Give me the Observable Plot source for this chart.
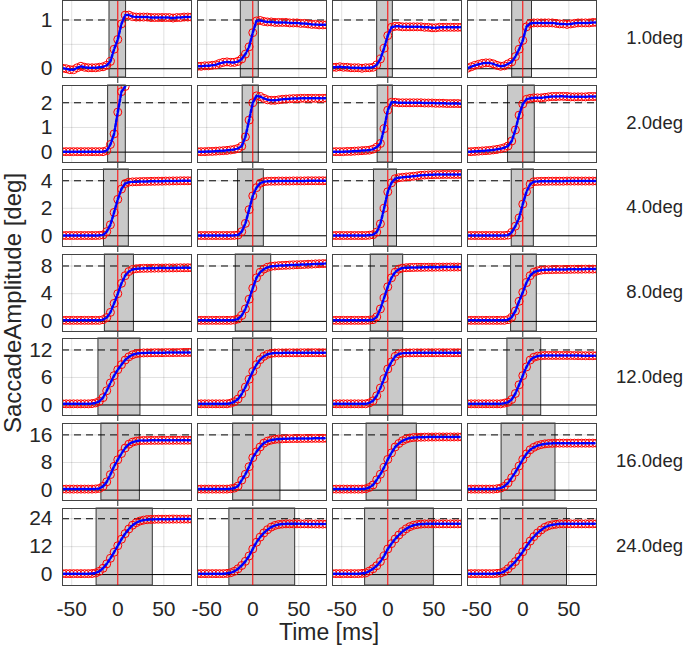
<!DOCTYPE html>
<html><head><meta charset="utf-8">
<script src="https://cdn.jsdelivr.net/npm/d3@7"></script>
<script src="https://cdn.jsdelivr.net/npm/@observablehq/plot@0.6"></script>
<style>
body{margin:0;background:#fff;}
#wrap{position:relative;width:685px;height:645px;overflow:hidden;font-family:"Liberation Sans",Arial,Helvetica,sans-serif;color:#262626;background:#fff;}
.row{position:absolute;left:0;}
.rlab{position:absolute;right:2px;font-family:"Liberation Sans",Arial,sans-serif;font-size:18px;line-height:1;white-space:nowrap;}
.ylab{position:absolute;font-size:24px;line-height:1;white-space:nowrap;transform-origin:center center;}
.xlab{position:absolute;font-size:23px;line-height:1;white-space:nowrap;}
</style></head><body><div id="wrap"></div>
<script>
// ---- data ----
const times = [-60,-56,-52,-48,-44,-40,-36,-32,-28,-24,-20,-16,-12,-8,-4,0,4,8,12,16,20,24,28,32,36,40,44,48,52,56,60,64,68,72,76,80];
const targets = [1,2,4,8,12,16,24];
const rowLabels = ["1.0deg","2.0deg","4.0deg","8.0deg","12.0deg","16.0deg","24.0deg"];
const yDomains = [[-0.18,1.4],[-0.42,2.7],[-0.78,4.82],[-1.46,9.66],[-2.3,14.5],[-3.0,19.3],[-4.7,28.4]];
const yTicks = [[0,0.5,1],[0,1,2],[0,2,4],[0,4,8],[0,6,12],[0,8,16],[0,12,24]];
const yTickLabels = [["0","","1"],["0","1","2"],["0","2","4"],["0","4","8"],["0","6","12"],["0","8","16"],["0","12","24"]];
const xTicks = [-50,0,50];
const xTickLabels = ["-50","0","50"];
const onsets = [[-9,-13,-11.5,-11.5],[-10.5,-11,-11,-16],[-15,-16,-15,-12],[-14,-18.5,-18.5,-12.7],[-21,-21.4,-19,-16.7],[-17.8,-21.3,-23,-23],[-23,-25.4,-24.6,-24]];
const offsets = [[9,6.5,5.5,10],[8.7,6.5,5.5,13],[12,12,10,12],[17.5,20,16.7,15.2],[24.6,21,16.7,20],[24,30,31.5,35.5],[38,46,50,48]];

const trace1deg = [
 [0.01,0.0,-0.02,-0.02,0.02,0.05,0.03,0.02,0.02,0.02,0.03,0.04,0.07,0.15,0.4,0.6,0.92,1.1,1.1,1.07,1.06,1.06,1.06,1.06,1.05,1.05,1.05,1.05,1.05,1.05,1.04,1.05,1.05,1.06,1.06,1.06],
 [0.05,0.05,0.06,0.06,0.07,0.08,0.11,0.13,0.14,0.13,0.13,0.15,0.2,0.3,0.45,0.74,0.98,0.99,0.97,0.96,0.96,0.95,0.95,0.95,0.95,0.94,0.94,0.94,0.93,0.93,0.92,0.91,0.91,0.9,0.9,0.9],
 [0.03,0.03,0.04,0.03,0.03,0.02,0.02,0.02,0.01,0.02,0.02,0.03,0.08,0.2,0.42,0.68,0.85,0.87,0.87,0.86,0.86,0.86,0.86,0.86,0.86,0.85,0.85,0.84,0.84,0.85,0.85,0.85,0.85,0.85,0.85,0.85],
 [0.01,0.04,0.07,0.09,0.11,0.12,0.12,0.1,0.07,0.05,0.06,0.1,0.14,0.25,0.4,0.58,0.86,0.93,0.94,0.94,0.94,0.94,0.94,0.94,0.93,0.92,0.92,0.91,0.92,0.93,0.94,0.94,0.94,0.94,0.95,0.95]
];
const trace2deg = [
 [0.02,0.02,0.02,0.02,0.02,0.02,0.02,0.02,0.02,0.02,0.02,0.02,0.06,0.31,0.74,1.62,2.45,2.66,null,null,null,null,null,null,null,null,null,null,null,null,null,null,null,null,null,null],
 [0.02,0.02,0.02,0.03,0.03,0.04,0.05,0.06,0.07,0.09,0.11,0.15,0.24,0.62,1.3,2.0,2.28,2.25,2.18,2.12,2.1,2.1,2.12,2.14,2.15,2.16,2.17,2.17,2.18,2.18,2.18,2.18,2.18,2.18,2.18,2.19],
 [0.02,0.02,0.02,0.02,0.03,0.03,0.04,0.05,0.06,0.07,0.08,0.12,0.2,0.35,0.95,1.7,2.02,2.02,2.0,2.0,2.0,2.0,2.0,2.0,2.0,1.99,1.99,1.99,1.98,1.98,1.98,1.97,1.97,1.97,1.97,1.96],
 [0.02,0.02,0.03,0.04,0.05,0.06,0.07,0.09,0.11,0.14,0.18,0.25,0.45,0.9,1.5,1.95,2.14,2.18,2.2,2.2,2.2,2.22,2.24,2.25,2.25,2.26,2.26,2.25,2.24,2.24,2.24,2.24,2.24,2.25,2.25,2.25]
];
const trace4deg = [
 [0.02,0.02,0.02,0.02,0.02,0.02,0.02,0.02,0.02,0.02,0.03,0.06,0.3,0.8,1.7,2.65,3.4,3.8,3.9,3.92,3.93,3.94,3.95,3.95,3.96,3.96,3.97,3.97,3.98,3.98,3.99,3.99,4.0,4.0,4.0,4.0],
 [0.02,0.02,0.02,0.02,0.02,0.02,0.02,0.02,0.02,0.02,0.03,0.06,0.3,0.9,1.9,2.9,3.5,3.82,3.93,3.96,3.97,3.97,3.98,3.98,3.98,3.98,3.99,3.99,3.99,3.99,4.0,4.0,4.0,4.0,4.0,4.0],
 [0.02,0.02,0.02,0.02,0.02,0.02,0.02,0.02,0.02,0.02,0.04,0.08,0.27,0.87,2.0,3.2,3.85,4.15,4.22,4.25,4.28,4.3,4.33,4.36,4.4,4.42,4.43,4.44,4.45,4.45,4.46,4.46,4.46,4.46,4.46,4.46],
 [0.02,0.02,0.02,0.02,0.02,0.02,0.02,0.02,0.02,0.02,0.02,0.05,0.25,0.7,1.3,2.3,3.2,3.75,3.93,3.95,3.96,3.96,3.97,3.97,3.97,3.97,3.97,3.98,3.98,3.98,3.98,3.98,3.98,3.98,3.98,3.98]
];
const trace8deg = [
 [0.15,0.15,0.15,0.15,0.15,0.15,0.15,0.15,0.15,0.15,0.15,0.25,0.55,1.3,2.6,4.0,5.5,6.6,7.2,7.5,7.6,7.65,7.66,7.67,7.68,7.69,7.7,7.7,7.71,7.72,7.72,7.73,7.74,7.74,7.75,7.75],
 [0.15,0.15,0.15,0.15,0.15,0.15,0.15,0.15,0.15,0.15,0.2,0.35,0.85,1.8,3.2,4.8,6.3,7.1,7.55,7.8,7.95,8.0,8.05,8.08,8.1,8.12,8.15,8.18,8.2,8.22,8.25,8.27,8.3,8.32,8.34,8.35],
 [0.15,0.15,0.15,0.15,0.15,0.15,0.15,0.15,0.15,0.15,0.18,0.25,0.65,1.8,3.4,5.0,6.3,7.1,7.55,7.7,7.75,7.77,7.78,7.8,7.8,7.81,7.82,7.82,7.83,7.83,7.84,7.84,7.85,7.85,7.85,7.85],
 [0.15,0.15,0.15,0.15,0.15,0.15,0.15,0.15,0.15,0.15,0.15,0.25,0.6,1.5,2.9,4.2,5.6,6.6,7.1,7.3,7.4,7.45,7.47,7.48,7.5,7.5,7.5,7.51,7.52,7.53,7.53,7.54,7.55,7.55,7.55,7.55]
];
const trace12deg = [
 [0.25,0.25,0.25,0.25,0.25,0.25,0.25,0.25,0.3,0.45,0.8,1.6,3.1,4.8,6.4,7.7,8.8,9.8,10.5,10.95,11.2,11.3,11.35,11.37,11.38,11.4,11.4,11.4,11.42,11.42,11.43,11.43,11.44,11.45,11.45,11.45],
 [0.25,0.25,0.25,0.25,0.25,0.25,0.25,0.25,0.25,0.4,0.7,1.3,2.4,3.9,5.6,7.3,8.8,9.9,10.6,11.05,11.25,11.33,11.35,11.36,11.37,11.38,11.38,11.38,11.39,11.39,11.4,11.4,11.4,11.4,11.4,11.4],
 [0.25,0.25,0.25,0.25,0.25,0.25,0.25,0.25,0.25,0.25,0.45,0.9,2.0,3.7,5.7,7.85,9.4,10.6,11.15,11.3,11.35,11.36,11.37,11.38,11.38,11.38,11.39,11.39,11.39,11.4,11.4,11.4,11.4,11.4,11.4,11.4],
 [0.25,0.25,0.25,0.25,0.25,0.25,0.25,0.25,0.25,0.25,0.4,0.6,1.2,2.5,4.4,6.4,8.3,9.8,10.4,10.65,10.75,10.8,10.8,10.8,10.8,10.8,10.8,10.8,10.8,10.78,10.77,10.76,10.75,10.75,10.75,10.75]
];
const trace16deg = [
 [0.3,0.3,0.3,0.3,0.3,0.3,0.3,0.3,0.3,0.35,0.5,1.1,2.4,4.5,6.9,8.8,10.6,12.2,13.3,13.9,14.2,14.35,14.4,14.4,14.42,14.42,14.43,14.43,14.44,14.44,14.44,14.45,14.45,14.45,14.45,14.45],
 [0.3,0.3,0.3,0.3,0.3,0.3,0.3,0.3,0.3,0.4,0.6,1.2,2.9,4.6,6.8,9.4,11.1,12.5,13.6,14.2,14.5,14.7,14.8,14.85,14.9,14.92,14.94,14.95,14.96,14.97,14.98,14.99,15.0,15.0,15.0,15.0],
 [0.3,0.3,0.3,0.3,0.3,0.3,0.3,0.3,0.3,0.4,0.77,1.5,3.0,4.6,6.6,8.9,10.8,12.5,13.5,14.3,14.8,15.1,15.25,15.3,15.33,15.35,15.37,15.38,15.39,15.4,15.4,15.4,15.4,15.4,15.4,15.4],
 [0.3,0.3,0.3,0.3,0.3,0.3,0.3,0.3,0.4,0.6,1.1,2.1,3.6,5.2,7.0,8.9,10.5,11.7,12.4,12.9,13.2,13.4,13.5,13.55,13.6,13.6,13.6,13.6,13.6,13.6,13.6,13.6,13.6,13.6,13.6,13.6]
];
const trace24deg = [
 [0.4,0.4,0.4,0.4,0.4,0.4,0.4,0.4,0.45,0.7,1.4,2.7,4.6,7.0,9.6,12.4,15.2,17.6,19.6,21.2,22.3,23.0,23.4,23.6,23.7,23.75,23.8,23.8,23.8,23.82,23.83,23.84,23.85,23.85,23.85,23.85],
 [0.4,0.4,0.4,0.4,0.4,0.4,0.4,0.4,0.5,0.8,1.4,2.5,3.9,5.7,8.0,11.0,13.9,16.1,17.9,19.3,20.4,21.1,21.5,21.7,21.8,21.8,21.8,21.8,21.8,21.8,21.78,21.76,21.74,21.72,21.7,21.7],
 [0.4,0.4,0.4,0.4,0.4,0.4,0.4,0.4,0.5,0.7,1.5,2.5,3.8,5.6,8.0,11.0,13.3,15.3,17.0,18.5,19.7,20.6,21.2,21.5,21.7,21.8,21.8,21.8,21.8,21.8,21.8,21.8,21.8,21.8,21.8,21.8],
 [0.4,0.4,0.4,0.4,0.4,0.4,0.4,0.4,0.5,0.7,1.3,2.5,4.0,5.6,7.6,9.8,12.2,14.4,16.3,17.9,19.2,20.3,21.0,21.4,21.6,21.8,21.8,21.8,21.8,21.8,21.8,21.8,21.8,21.8,21.8,21.8]
];
const traces = [trace1deg, trace2deg, trace4deg, trace8deg, trace12deg, trace16deg, trace24deg];

// ---- layout ----
const FONT = '"Liberation Sans", Arial, Helvetica, sans-serif';
const W = 685, PH = 77, ROWSTEP = 84.6, MT = 2;
const wrap = document.getElementById("wrap");
const cols = [0,1,2,3];
const labs = [];

traces.forEach((rowTraces, r) => {
  const last = r === traces.length - 1;
  const MB = last ? 45 : 2;
  const pts = [];
  rowTraces.forEach((vals, c) => vals.forEach((v, i) => { if (v != null) pts.push({col: c, t: times[i], v}); }));
  const shades = cols.map(c => ({col: c, on: onsets[r][c], off: offsets[r][c]}));
  const marks = [
    Plot.gridX(xTicks, {stroke: "#000", strokeOpacity: 0.12, strokeWidth: 1}),
    Plot.gridY(yTicks[r], {stroke: "#000", strokeOpacity: 0.12, strokeWidth: 1}),
    Plot.rect(shades, {x1: "on", x2: "off", fx: "col", fill: "#c9c9c9", stroke: "#333", strokeWidth: 1}),
    Plot.ruleY([0], {stroke: "#000", strokeWidth: 1}),
    Plot.ruleY([targets[r]], {stroke: "#000", strokeWidth: 1, strokeDasharray: "7,5"}),
    Plot.ruleX([0], {stroke: "#ff0000", strokeWidth: 1}),
    Plot.dot(pts, {x: "t", y: "v", fx: "col", r: 4, stroke: "#ff0000", strokeWidth: 1, fill: "none", clip: true}),
    Plot.line(pts, {x: "t", y: "v", fx: "col", stroke: "#0000ff", strokeWidth: 2.5, strokeDasharray: "3,2", clip: true}),
    Plot.frame({stroke: "#444", strokeWidth: 1}),
    Plot.axisY(yTicks[r], {tickSize: 0, tickPadding: 10, fontSize: 21, fill: "#262626", label: null,
      tickFormat: d => yTickLabels[r][yTicks[r].indexOf(d)]})
  ];
  if (last) marks.push(Plot.axisX(xTicks, {tickSize: 0, tickPadding: 16, fontSize: 21, fill: "#262626", label: null,
      tickFormat: d => xTickLabels[xTicks.indexOf(d)]}));
  const chart = Plot.plot({
    width: W, height: PH + MT + MB,
    marginLeft: 62, marginRight: 88, marginTop: MT, marginBottom: MB,
    style: {fontFamily: FONT, background: "transparent", overflow: "visible", color: "#262626"},
    fx: {domain: cols, paddingInner: 0.042, paddingOuter: 0, axis: null, label: null},
    x: {domain: [-60, 80]},
    y: {domain: yDomains[r]},
    marks
  });
  const div = document.createElement("div");
  div.className = "row";
  div.style.top = (r * ROWSTEP - MT) + "px";
  div.appendChild(chart);
  wrap.appendChild(div);

  const lab = document.createElement("div");
  lab.className = "rlab";
  lab.textContent = rowLabels[r];
  wrap.appendChild(lab);
  labs.push([lab, r]);
});

// fit row labels so "12.0deg" is about 67px wide, as in the reference
const probe = labs[4][0].getBoundingClientRect().width;
const fs = Math.max(14, Math.min(19, 18 * 67 / probe));
labs.forEach(([lab, r]) => {
  lab.style.fontSize = fs + "px";
  lab.style.top = (r * ROWSTEP + PH / 2 - fs / 2) + "px";
});

const ylab = document.createElement("div");
ylab.className = "ylab";
ylab.textContent = "SaccadeAmplitude [deg]";
wrap.appendChild(ylab);
const yw = ylab.getBoundingClientRect().width, yh = ylab.getBoundingClientRect().height;
ylab.style.left = (13 - yw / 2) + "px";
ylab.style.top = (303 - yh / 2) + "px";
ylab.style.transform = "rotate(-90deg)";

const xlab = document.createElement("div");
xlab.className = "xlab";
xlab.textContent = "Time [ms]";
wrap.appendChild(xlab);
const xw = xlab.getBoundingClientRect().width;
xlab.style.left = (329 - xw / 2) + "px";
xlab.style.top = "621px";
</script></body></html>
